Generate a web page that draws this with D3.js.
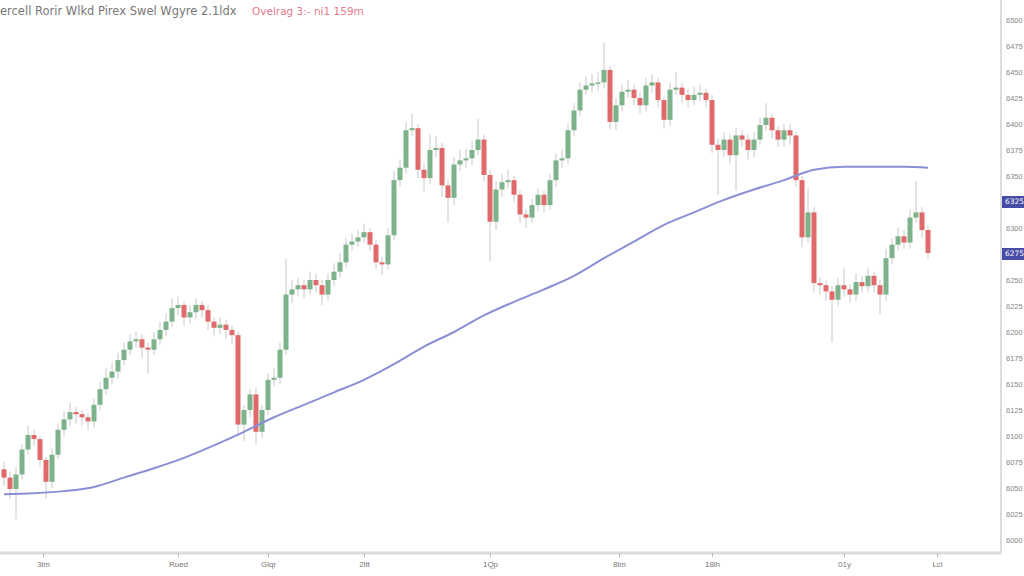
<!DOCTYPE html>
<html><head><meta charset="utf-8">
<script src="https://cdn.jsdelivr.net/npm/d3@7"></script>
<style>
html,body{margin:0;padding:0;background:#fff;overflow:hidden}
svg{display:block;font-family:"DejaVu Sans",sans-serif}
</style></head><body>
<svg id="c" width="1024" height="576"></svg>
<script>
const titleText = "ercell Rorir Wlkd Pirex Swel Wgyre 2.1ldx";
const subText = "Ovelrag 3:- ni1 159m";
const opens0 = 6068;
const closes = [6060,6049,6063,6087,6101,6097,6077,6056,6082,6106,6116,6123,6121,6118,6114,6130,6145,6156,6162,6173,
6183,6191,6193,6185,6183,6193,6202,6210,6223,6226,6214,6219,6226,6221,6210,6204,6207,6202,6197,6111,
6125,6140,6104,6125,6154,6156,6183,6236,6241,6245,6241,6250,6245,6236,6250,6258,6267,6284,6287,6291,
6296,6284,6267,6265,6293,6346,6358,6394,6396,6356,6348,6375,6377,6341,6329,6361,6365,6367,6375,6385,
6351,6306,6337,6344,6346,6332,6313,6310,6322,6332,6322,6346,6365,6367,6394,6413,6433,6437,6439,6440,
6452,6402,6418,6431,6433,6425,6418,6437,6440,6423,6404,6433,6435,6428,6423,6428,6430,6423,6380,6375,
6385,6370,6389,6385,6375,6385,6399,6406,6394,6385,6394,6389,6346,6291,6315,6247,6245,6239,6231,6245,
6241,6236,6248,6244,6254,6245,6236,6271,6284,6292,6286,6310,6315,6298,6276];
const highs = [6075,6066,6070,6092,6110,6106,6100,6080,6088,6112,6124,6132,6128,6125,6122,6136,6152,6165,6170,6180,
6190,6198,6200,6198,6190,6200,6210,6218,6232,6234,6230,6226,6232,6230,6226,6214,6214,6212,6206,6200,
6130,6145,6146,6130,6160,6165,6190,6270,6250,6252,6250,6258,6256,6250,6256,6266,6276,6290,6295,6298,
6304,6300,6288,6272,6300,6355,6366,6402,6410,6400,6362,6390,6388,6382,6346,6368,6375,6376,6384,6405,
6390,6356,6345,6352,6356,6350,6336,6318,6328,6338,6336,6352,6372,6375,6400,6420,6440,6446,6448,6450,
6478,6456,6425,6438,6442,6438,6430,6444,6448,6444,6426,6440,6450,6440,6434,6436,6438,6434,6428,6386,
6392,6390,6396,6394,6390,6392,6406,6420,6410,6398,6400,6400,6392,6350,6338,6320,6252,6250,6244,6252,
6262,6246,6256,6254,6262,6258,6250,6280,6290,6300,6298,6318,6345,6320,6302];
const lows = [6052,6040,6020,6058,6082,6090,6070,6040,6050,6078,6100,6110,6112,6110,6106,6108,6125,6140,6150,6155,
6168,6178,6185,6175,6160,6178,6188,6196,6205,6216,6206,6208,6212,6214,6202,6196,6198,6194,6188,6100,
6095,6118,6092,6098,6120,6148,6150,6178,6228,6234,6232,6236,6238,6226,6230,6244,6252,6262,6278,6282,
6286,6278,6260,6255,6260,6288,6340,6352,6388,6348,6335,6342,6368,6330,6305,6322,6355,6358,6360,6370,
6345,6268,6298,6330,6338,6325,6305,6300,6305,6316,6315,6318,6340,6358,6362,6388,6408,6428,6430,6432,
6434,6395,6394,6412,6425,6418,6410,6412,6430,6416,6396,6398,6428,6420,6416,6418,6422,6416,6372,6332,
6368,6362,6336,6378,6366,6368,6380,6394,6386,6378,6378,6380,6340,6282,6286,6238,6236,6230,6190,6225,
6234,6228,6230,6238,6238,6238,6217,6230,6265,6278,6280,6280,6305,6290,6270];
const maIndex = [0,5,10,15,20,25,30,35,40,45,50,55,60,65,70,75,80,85,90,95,100,105,110,115,120,125,130,135,140,145,150,154];
const maValues = [6044,6045,6047,6051,6060,6069,6079,6091,6104,6118,6130,6142,6154,6169,6186,6200,6216,6229,6241,6254,6271,6287,6303,6315,6327,6337,6346,6356,6359,6359,6359,6358];
const xTickIndex = [6.5,29,44,60,81,102.5,118,140,155.5];
const xTickLabels = ["3lm","Rued","Glqr","2ltt","1Qp","8lm","18lh","01y","Lcl"];
const yTickValues = d3.range(6000, 6501, 25);
const tagValues = [6325, 6275];

const opens = closes.map((c,i)=> i===0 ? opens0 : closes[i-1]);
const data = closes.map((c,i)=>({i, o:opens[i], c, h:highs[i], l:lows[i]}));

const svg = d3.select("#c");
const x = d3.scaleLinear().domain([0,154]).range([4,928]);
const y = d3.scaleLinear().domain([6000,6500]).range([540,20]);

// frame
svg.append("line").attr("x1",1001).attr("x2",1001).attr("y1",0).attr("y2",553).attr("stroke","#dcdcdc").attr("stroke-width",2);

// candles
const up="#7cb38a", dn="#e06a6a";
const g = svg.append("g");
g.selectAll("line.w").data(data).join("line").attr("class","w")
 .attr("x1",d=>x(d.i)).attr("x2",d=>x(d.i)).attr("y1",d=>y(d.h)).attr("y2",d=>y(d.l))
 .attr("stroke","#c8c8c8").attr("stroke-width",1);
g.selectAll("rect.b").data(data).join("rect").attr("class","b")
 .attr("x",d=>x(d.i)-2.5).attr("width",5)
 .attr("y",d=>y(Math.max(d.o,d.c)))
 .attr("height",d=>Math.max(1.5, Math.abs(y(d.o)-y(d.c))))
 .attr("fill",d=>d.c>=d.o?up:dn);

// MA
const ma = maIndex.map((k,j)=>({i:k, v:maValues[j]}));
svg.append("path").datum(ma)
 .attr("d", d3.line().x(d=>x(d.i)).y(d=>y(d.v)).curve(d3.curveMonotoneX))
 .attr("fill","none").attr("stroke","#8a8fd6").attr("stroke-width",2);

// x axis
const xa = svg.append("g").attr("transform","translate(0,553)")
 .call(d3.axisBottom(x).tickValues(xTickIndex).tickFormat((d,j)=>xTickLabels[j]).tickSize(4).tickPadding(4));
xa.select(".domain").attr("d","M0,0H1001").attr("stroke","#dcdcdc").attr("stroke-width",3);
xa.selectAll(".tick line").attr("stroke","#bbb");
xa.selectAll(".tick text").attr("fill","#777").attr("font-size",8);

// y axis (tags replace their tick labels)
const ya = svg.append("g").attr("transform","translate(1002,0)")
 .call(d3.axisRight(y).tickValues(yTickValues.filter(v=>!tagValues.includes(v))).tickFormat(d3.format("d")).tickSize(0).tickPadding(4));
ya.select(".domain").remove();
ya.selectAll(".tick text").attr("fill","#888").attr("font-size",7.5);

// tags
const tg = svg.append("g").selectAll("g").data(tagValues).join("g")
 .attr("transform",d=>`translate(1002,${y(d)})`);
tg.append("rect").attr("x",0).attr("y",-6).attr("width",22).attr("height",12).attr("fill","#474ca6");
tg.append("text").attr("x",3).attr("dy","0.32em").attr("fill","#fff").attr("font-size",7.5).text(d=>d);

// title
svg.append("text").attr("x",0).attr("y",15).attr("font-size",11.5).attr("fill","#777").text(titleText);
svg.append("text").attr("x",252).attr("y",15).attr("font-size",10.5).attr("fill","#e57a8a").text(subText);
</script>
</body></html>
